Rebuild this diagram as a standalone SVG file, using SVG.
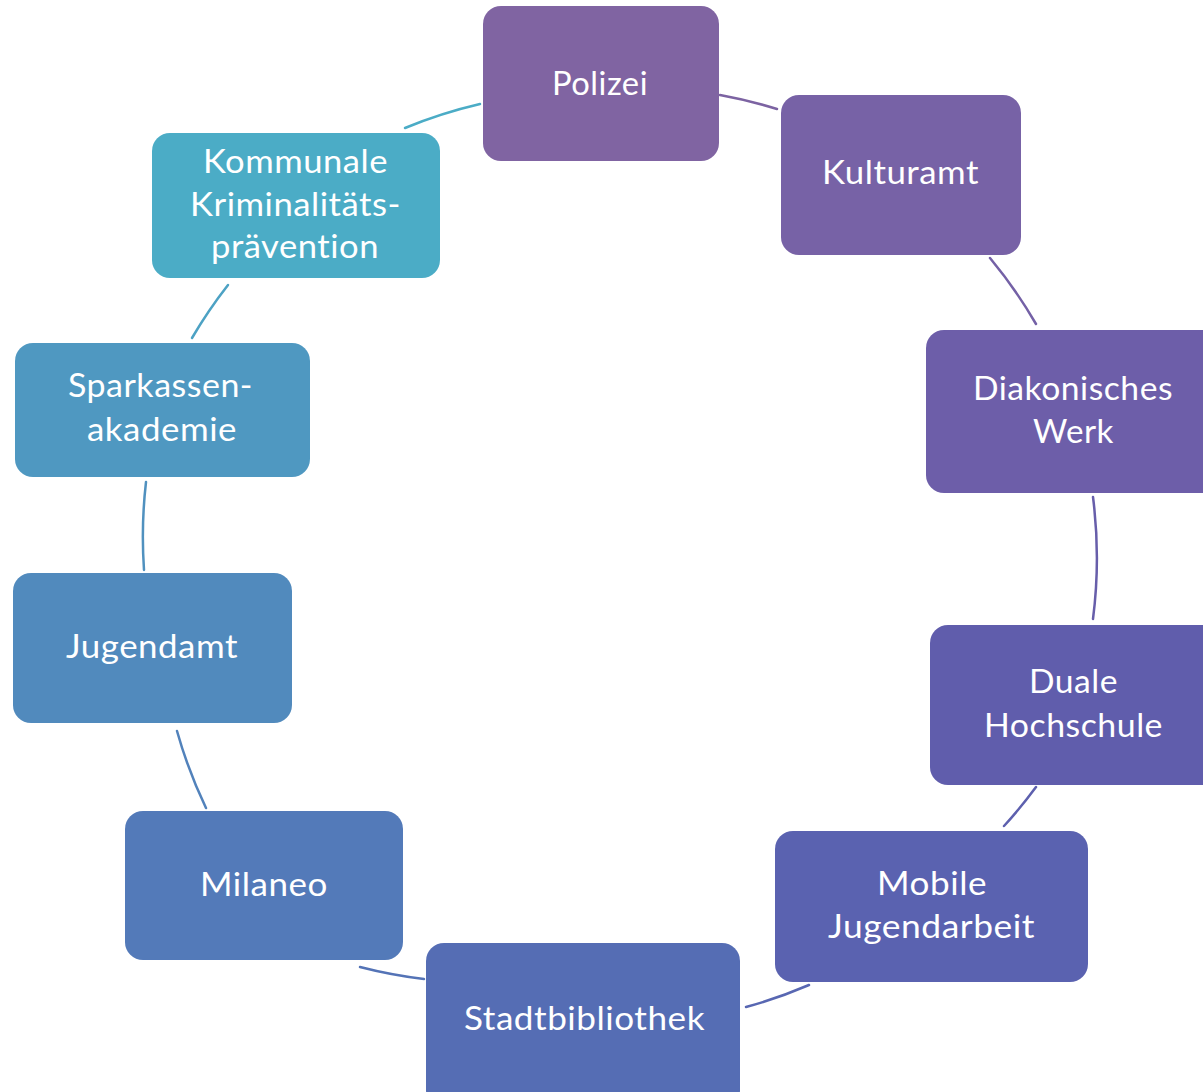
<svg xmlns="http://www.w3.org/2000/svg" width="1203" height="1092" viewBox="0 0 1203 1092">
<style>
.box{rx:18px;ry:18px}
text{font-family:Lato,"Open Sans","Liberation Sans",sans-serif;font-size:33px;fill:#ffffff;text-anchor:middle;letter-spacing:0.5px}
.c{fill:none;stroke-width:2.5;stroke-linecap:round}
</style>
<rect width="1203" height="1092" fill="#ffffff"/>
<g id="connectors">
<path class="c" stroke="#7C63A2" d="M720,95 A480,480 0 0 1 777,109"/>
<path class="c" stroke="#7461A6" d="M990,258 A480,480 0 0 1 1036,324"/>
<path class="c" stroke="#675EAA" d="M1093,497 A480,480 0 0 1 1093,619"/>
<path class="c" stroke="#5D60AE" d="M1036,787 A480,480 0 0 1 1004,826"/>
<path class="c" stroke="#5867B2" d="M809,985 A480,480 0 0 1 746,1007"/>
<path class="c" stroke="#5473B6" d="M424,979 A480,480 0 0 1 360,967"/>
<path class="c" stroke="#5282BB" d="M206,808 A480,480 0 0 1 177,731"/>
<path class="c" stroke="#5091BF" d="M144,570 A480,480 0 0 1 146,482"/>
<path class="c" stroke="#4DA2C4" d="M192,338 A480,480 0 0 1 228,285"/>
<path class="c" stroke="#4BACC6" d="M405,128 A480,480 0 0 1 480,104"/>
</g>
<g id="polizei"><rect class="box" x="483" y="6" width="236" height="155" fill="#8064A2"/><text x="600" y="95" textLength="96" lengthAdjust="spacingAndGlyphs">Polizei</text></g>
<g id="kulturamt"><rect class="box" x="781" y="95" width="240" height="160" fill="#7762A6"/><text x="900.5" y="184" textLength="157" lengthAdjust="spacingAndGlyphs">Kulturamt</text></g>
<g id="diakonisches-werk"><rect class="box" x="926" y="330" width="294" height="163" fill="#6D5EA9"/><text x="1073" y="400" textLength="200" lengthAdjust="spacingAndGlyphs">Diakonisches</text><text x="1073.5" y="443" textLength="81" lengthAdjust="spacingAndGlyphs">Werk</text></g>
<g id="duale-hochschule"><rect class="box" x="930" y="625" width="290" height="160" fill="#605DAC"/><text x="1073.5" y="693" textLength="89" lengthAdjust="spacingAndGlyphs">Duale</text><text x="1073.5" y="737" textLength="179" lengthAdjust="spacingAndGlyphs">Hochschule</text></g>
<g id="mobile-jugendarbeit"><rect class="box" x="775" y="831" width="313" height="151" fill="#5A62B0"/><text x="932" y="895" textLength="110" lengthAdjust="spacingAndGlyphs">Mobile</text><text x="931.5" y="938" textLength="207" lengthAdjust="spacingAndGlyphs">Jugendarbeit</text></g>
<g id="stadtbibliothek"><rect class="box" x="426" y="943" width="314" height="165" fill="#556DB4"/><text x="584.5" y="1030" textLength="241" lengthAdjust="spacingAndGlyphs">Stadtbibliothek</text></g>
<g id="milaneo"><rect class="box" x="125" y="811" width="278" height="149" fill="#537AB9"/><text x="264" y="896" textLength="128" lengthAdjust="spacingAndGlyphs">Milaneo</text></g>
<g id="jugendamt"><rect class="box" x="13" y="573" width="279" height="150" fill="#518ABD"/><text x="152" y="658" textLength="172" lengthAdjust="spacingAndGlyphs">Jugendamt</text></g>
<g id="sparkassenakademie"><rect class="box" x="15" y="343" width="295" height="134" fill="#4F98C1"/><text x="160.5" y="397" textLength="185" lengthAdjust="spacingAndGlyphs">Sparkassen-</text><text x="162" y="441" textLength="150" lengthAdjust="spacingAndGlyphs">akademie</text></g>
<g id="kommunale-kriminalpraevention"><rect class="box" x="152" y="133" width="288" height="145" fill="#4BACC6"/><text x="295.5" y="173" textLength="185" lengthAdjust="spacingAndGlyphs">Kommunale</text><text x="295.5" y="216" textLength="211" lengthAdjust="spacingAndGlyphs">Kriminalitäts-</text><text x="295" y="258" textLength="168" lengthAdjust="spacingAndGlyphs">prävention</text></g>
</svg>
